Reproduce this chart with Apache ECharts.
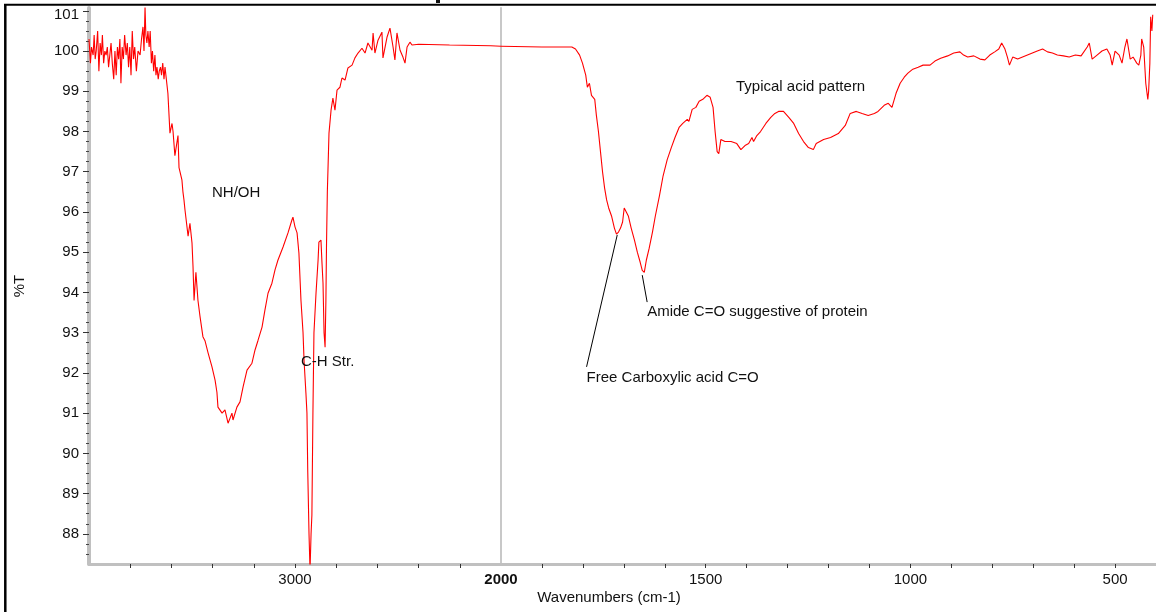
<!DOCTYPE html>
<html><head><meta charset="utf-8">
<script src="https://cdn.jsdelivr.net/npm/echarts@6/dist/echarts.min.js"></script>
<style>html,body{margin:0;padding:0;background:#fff}#chart{width:1156px;height:612px}</style>
</head><body><div id="chart"></div>
<script>
// Wavenumbers (cm-1), descending
const wavenumbers = [
4000,3993,3988,3980,3975,3970,3965,3958,3952,3946,3940,3935,3929,3923,3917,3911,3905,3899,3893,3887,
3880,3874,3868,3862,3856,3850,3845,3839,3833,3827,3820,3814,3808,3802,3796,3790,3784,3778,3770,3762,
3752,3745,3738,3733,3728,3724,3719,3714,3708,3703,3697,3692,3686,3680,3675,3670,3664,3659,3653,3648,
3642,3636,3631,3617,3607,3597,3592,3583,3568,3563,3549,3544,3539,3534,3519,3510,3500,3495,3490,3481,
3471,3461,3447,3437,3422,3403,3388,3379,3374,3354,3340,3325,3306,3301,3282,3267,3252,3233,3209,3194,
3180,3160,3146,3131,3112,3097,3083,3058,3034,3015,3010,3000,2990,2981,2971,2961,2956,2947,2942,2938,
2932,2927,2922,2918,2913,2908,2898,2888,2884,2874,2869,2864,2859,2854,2850,2847,2843,2840,2835,2825,
2816,2806,2796,2782,2772,2757,2743,2723,2709,2694,2675,2660,2646,2626,2621,2612,2597,2578,2573,2553,
2539,2524,2515,2505,2490,2476,2466,2456,2442,2432,2400,2250,2050,2000,
1900,1827,1818,1808,1801,1793,1789,1784,1779,1771,1767,1762,1757,1752,1747,1742,1737,1730,1723,1718,
1713,1708,1703,1699,1694,1689,1682,1674,1667,1660,1655,1650,1645,1638,1630,1623,1613,1604,1594,1584,
1575,1565,1556,1545,1541,1533,1524,1516,1507,1497,1489,1482,1477,1472,1468,1463,1453,1438,1424,1414,
1404,1395,1387,1383,1375,1366,1353,1341,1331,1322,1310,1297,1285,1273,1261,1249,1237,1230,1212,1195,
1176,1159,1147,1132,1118,1103,1088,1079,1064,1054,1045,1035,1025,1015,1006,994,981,969,952,940,
926,909,894,879,870,860,845,830,818,806,794,784,777,769,763,758,750,738,726,714,
702,690,677,665,653,641,626,612,597,583,568,563,556,544,532,520,512,507,500,490,
483,476,471,463,456,447,442,437,435,430,425,420,418,415,413,410,408
];
// %T
const transmittance = [
100.3,99.7,100.1,99.9,100.4,99.8,100.0,100.5,99.5,100.2,99.9,100.4,99.7,100.0,99.9,100.1,99.6,99.9,100.2,99.7,
99.3,100.0,99.4,100.1,99.8,100.3,99.2,100.1,99.8,100.4,99.9,100.2,99.6,100.1,99.4,100.5,99.8,100.1,99.5,100.0,
99.9,100.3,100.6,100.0,101.1,100.4,100.2,100.5,100.1,100.5,99.7,100.0,99.5,99.9,99.4,99.6,99.3,99.5,99.6,99.4,
99.7,99.3,99.6,98.95,97.96,98.2,98.0,97.4,97.9,97.1,96.8,96.5,96.3,96.05,95.4,95.72,95.23,94.63,93.8,94.5,
93.8,93.4,92.9,92.8,92.5,92.15,91.82,91.52,91.15,91.0,91.08,90.75,91.0,90.83,91.15,91.28,91.65,92.07,92.24,92.57,
92.8,93.14,93.56,93.98,94.23,94.56,94.8,95.13,95.48,95.8,95.87,95.63,95.48,94.98,93.8,93.0,92.3,91.5,91.0,89.53,
88.0,87.1,88.0,88.47,91.0,93.0,93.98,94.8,95.25,95.3,94.73,94.23,93.0,92.64,93.8,95.2,96.5,97.04,97.96,98.53,
98.83,98.53,99.03,99.1,99.33,99.28,99.58,99.65,99.83,99.95,100.07,99.95,100.2,100.02,100.45,99.95,100.27,100.47,99.83,100.35,
100.57,100.1,99.78,100.45,100.02,99.85,99.7,100.1,100.22,100.15,100.17,100.15,100.13,100.12,
100.1,100.1,100.05,99.9,99.7,99.4,99.1,99.2,98.9,98.8,98.4,98.0,97.5,97.0,96.6,96.3,96.1,95.9,95.6,95.45,
95.5,95.6,95.75,96.1,96.0,95.9,95.6,95.3,95.0,94.75,94.55,94.5,94.8,95.1,95.5,95.9,96.4,96.9,97.3,97.6,
97.85,98.1,98.2,98.3,98.25,98.55,98.6,98.75,98.8,98.9,98.85,98.6,98.0,97.5,97.45,97.8,97.75,97.75,97.7,97.55,
97.65,97.7,97.85,97.75,97.9,98.0,98.2,98.35,98.45,98.5,98.5,98.35,98.2,97.95,97.75,97.6,97.55,97.7,97.8,97.85,
97.95,98.15,98.45,98.5,98.45,98.4,98.45,98.5,98.65,98.7,98.6,98.95,99.2,99.35,99.45,99.55,99.6,99.65,99.65,99.75,
99.82,99.88,99.95,99.98,99.9,99.85,99.88,99.8,99.78,99.9,99.98,100.05,100.2,100.05,99.85,99.65,99.85,99.8,99.85,99.9,
99.95,100.0,100.05,99.98,99.95,99.9,99.88,99.85,99.9,99.88,100.1,100.2,99.8,99.9,100.0,100.05,99.9,99.65,100.0,99.9,
99.7,100.1,100.3,99.8,99.85,99.7,99.65,99.9,100.3,100.1,99.2,98.8,99.0,99.7,100.85,100.5,100.9
];
const yTickLabels = [88,89,90,91,92,93,94,95,96,97,98,99,100,101];
const yMinorTicks = [87.5,87.75,88.25,88.5,88.75,89.25,89.5,89.75,90.25,90.5,90.75,91.25,91.5,91.75,92.25,92.5,92.75,
  93.25,93.5,93.75,94.25,94.5,94.75,95.25,95.5,95.75,96.25,96.5,96.75,97.25,97.5,97.75,98.25,98.5,98.75,
  99.25,99.5,99.75,100.25,100.5,100.75];
const xLabelsLeft = [3000];
const xTicksLeft = [3800,3600,3400,3200,3000,2800,2600,2400,2200];
const xLabelsRight = [2000,1500,1000,500];
const xTicksRight = [1900,1800,1700,1600,1500,1400,1300,1200,1100,1000,900,800,700,600,500];
const leftNotes = [
  {name:'NH/OH', coord:[3403,96.47]},
  {name:'C-H Str.', coord:[2971,92.27]}
];
const rightNotes = [
  {name:'Typical acid pattern', coord:[1426,99.1]},
  {name:'Amide C=O suggestive of protein', coord:[1643,93.51]},
  {name:'Free Carboxylic acid C=O', coord:[1791,91.87]}
];
const leaderLines = [
  [[1791,92.15],[1716,95.43]],
  [[1655,94.43],[1643,93.76]]
];

const pairs = wavenumbers.map((w,i)=>[w, transmittance[i]]);
const leftData = pairs.filter(p=>p[0]>=2000);
const rightData = pairs.filter(p=>p[0]<=2000);

const FONT = 'Liberation Sans, Arial, sans-serif';
const Y_MIN = 87.25, Y_MAX = 101.07;
const chart = echarts.init(document.getElementById('chart'));
const noteLabel = {show:true, position:'right', distance:0, formatter:'{b}', color:'#111', fontSize:15, fontFamily:FONT};
chart.setOption({
  animation:false,
  backgroundColor:'#fff',
  grid:[
    {left:89, top:8, width:412, height:556},
    {left:501, top:8, width:658, height:556}
  ],
  xAxis:[
    {gridIndex:0, type:'value', min:2000, max:4000, inverse:true,
     axisLine:{show:true, lineStyle:{color:'#c0c0c0', width:3}},
     axisTick:{show:true, customValues:xTicksLeft, length:4, lineStyle:{color:'#333'}},
     axisLabel:{customValues:xLabelsLeft, fontSize:15, color:'#111', fontFamily:FONT, margin:8,
       formatter:v => String(v)},
     splitLine:{show:false}},
    {gridIndex:1, type:'value', min:400, max:2000, inverse:true,
     axisLine:{show:true, lineStyle:{color:'#c0c0c0', width:3}},
     axisTick:{show:true, customValues:xTicksRight, length:4, lineStyle:{color:'#333'}},
     axisLabel:{customValues:xLabelsRight, showMaxLabel:true, showMinLabel:true, fontSize:15, color:'#111', fontFamily:FONT, margin:8,
       formatter:v => v===2000 ? '{b|2000}' : String(v),
       rich:{b:{fontWeight:'bold', fontSize:15, fontFamily:FONT, color:'#111'}}},
     splitLine:{show:false}}
  ],
  yAxis:[
    {gridIndex:0, type:'value', min:Y_MIN, max:Y_MAX, position:'left',
     axisLine:{show:true, lineStyle:{color:'#c0c0c0', width:4}},
     axisTick:{show:true, customValues:yTickLabels, length:6, lineStyle:{color:'#333'}},
     axisLabel:{customValues:yTickLabels, fontSize:15, color:'#111', fontFamily:FONT, margin:10,
       formatter:v => v===101 ? '{t|101}' : String(v),
       rich:{t:{fontSize:15, fontFamily:FONT, color:'#111', padding:[8,0,0,0]}}},
     splitLine:{show:false},
     name:'%T', nameLocation:'middle', nameGap:62, nameTextStyle:{fontSize:15, color:'#111', fontFamily:FONT}},
    {gridIndex:0, type:'value', min:Y_MIN, max:Y_MAX, position:'left', offset:0,
     axisLine:{show:false},
     axisTick:{show:true, customValues:yMinorTicks, length:3, lineStyle:{color:'#444'}},
     axisLabel:{show:false}, splitLine:{show:false}},
    {gridIndex:1, type:'value', min:Y_MIN, max:Y_MAX, position:'left',
     axisLine:{show:true, lineStyle:{color:'#c8c8c8', width:2}},
     axisTick:{show:false}, axisLabel:{show:false}, splitLine:{show:false}}
  ],
  series:[
    {type:'line', xAxisIndex:0, yAxisIndex:0, data:leftData, showSymbol:false, clip:true,
     lineStyle:{color:'#ff0000', width:1.1}, z:2,
     markPoint:{symbol:'circle', symbolSize:0, silent:true, label:noteLabel,
       data:leftNotes.map(n=>({name:n.name, coord:n.coord}))}},
    {type:'line', xAxisIndex:1, yAxisIndex:2, data:rightData, showSymbol:false, clip:true,
     lineStyle:{color:'#ff0000', width:1.1}, z:2,
     markPoint:{symbol:'circle', symbolSize:0, silent:true, label:noteLabel,
       data:rightNotes.map(n=>({name:n.name, coord:n.coord}))},
     markLine:{silent:true, symbol:['none','none'], label:{show:false},
       lineStyle:{color:'#000', width:1, type:'solid'},
       data:leaderLines.map(l=>[{coord:l[0]},{coord:l[1]}])}}
  ],
  graphic:[
    {type:'line', shape:{x1:5.3, y1:4, x2:5.3, y2:612}, style:{stroke:'#000', lineWidth:2.5}},
    {type:'line', shape:{x1:4, y1:4.8, x2:1156, y2:4.8}, style:{stroke:'#000', lineWidth:2}},
    {type:'rect', shape:{x:436, y:0, width:4, height:3}, style:{fill:'#111'}},
    {type:'text', x:609, y:598, style:{text:'Wavenumbers (cm-1)', fontSize:15, fontFamily:FONT, fill:'#111', align:'center', verticalAlign:'middle'}}
  ]
});
</script></body></html>
